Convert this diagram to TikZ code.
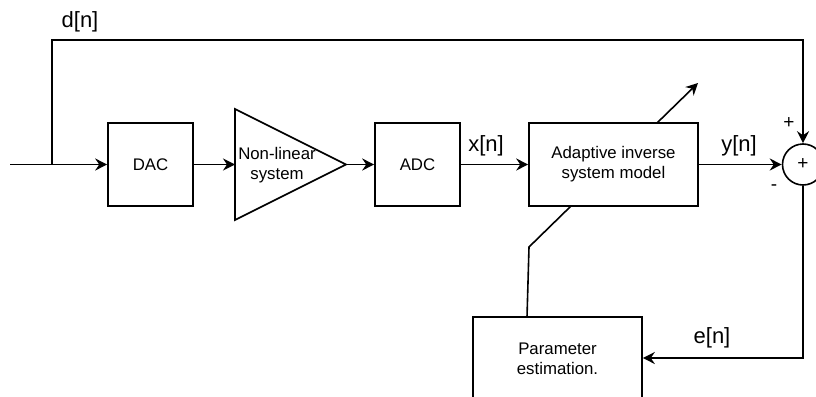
\documentclass[tikz,border=0pt]{standalone}
\usepackage{fontspec}
\setmainfont{Liberation Sans}
\usetikzlibrary{arrows.meta}
\tikzset{
  wire/.style={line width=1.6pt, draw=black},
  arr/.style={wire, -{Stealth[length=12pt,width=12pt,inset=4pt]}},
  blockbox/.style={draw=black, line width=1.6pt, inner sep=0pt, align=center,
    font=\fontsize{16.8}{20}\selectfont},
  lbl/.style={font=\fontsize{22}{24}\selectfont, inner sep=0pt},
  sgn/.style={font=\fontsize{19}{20}\selectfont, inner sep=0pt}
}
\begin{document}
\begin{tikzpicture}[x=1pt,y=-1pt]
\useasboundingbox (0,0) rectangle (816,396);
\clip (0,0) rectangle (816,396);
% blocks
\node[blockbox, minimum width=85pt, minimum height=83pt] (dac) at (150.5,164.5) {DAC};
\draw[wire] (235,109) -- (346,164.5) -- (235,220) -- cycle;
\coordinate (nlin) at (235,164.5);
\coordinate (nlout) at (346,164.5);
\node[align=center, inner sep=0pt, font=\fontsize{16.8}{20}\selectfont] (nltext) at (277,165) {Non-linear\\system};
\node[blockbox, minimum width=85pt, minimum height=83pt] (adc) at (417.5,164.5) {ADC};
\node[blockbox, minimum width=169pt, minimum height=83pt] (adapt) at (613.5,164.5) {Adaptive inverse\\system model};
\node[blockbox, minimum width=169pt, minimum height=83pt] (param) at (557.5,358.5) {Parameter\\estimation.};
\node[draw=black, line width=1.6pt, circle, minimum size=41pt, inner sep=0pt, font=\fontsize{19}{20}\selectfont] (sum) at (803,164.5) {+};
% input and feedforward
\coordinate (in) at (10,164.5);
\coordinate (br) at (52,164.5);
\coordinate (tl) at (52,40);
\coordinate (tr) at (803,40);
\draw[arr] (in) -- (dac.west);
\draw[arr] (br) -- (tl) -- (tr) -- (sum.north);
\draw[arr] (dac.east) -- (nlin);
\draw[arr] (nlout) -- (adc.west);
\draw[arr] (adc.east) -- (adapt.west);
\draw[arr] (adapt.east) -- (sum.west);
% error feedback
\coordinate (eb) at (803,358);
\draw[arr] (sum.south) -- (eb) -- (param.east |- eb);
% adaptation arrow
\coordinate (ad1) at (657,123);
\coordinate (ad2) at (698,83);
\draw[arr] (ad1) -- (ad2);
% param to model
\coordinate (pm1) at (527,317);
\coordinate (pm2) at (529,247);
\coordinate (pm3) at (571,206);
\draw[wire] (pm1) -- (pm2) -- (pm3);
% labels
\node[lbl] (ldn) at (80,22) {d[n]};
\node[lbl] (lxn) at (486,146) {x[n]};
\node[lbl] (lyn) at (739,146) {y[n]};
\node[lbl] (len) at (712,338) {e[n]};
\node[sgn] (lplus) at (789,123) {+};
\node[sgn] (lminus) at (774,188) {-};
\end{tikzpicture}
\end{document}
